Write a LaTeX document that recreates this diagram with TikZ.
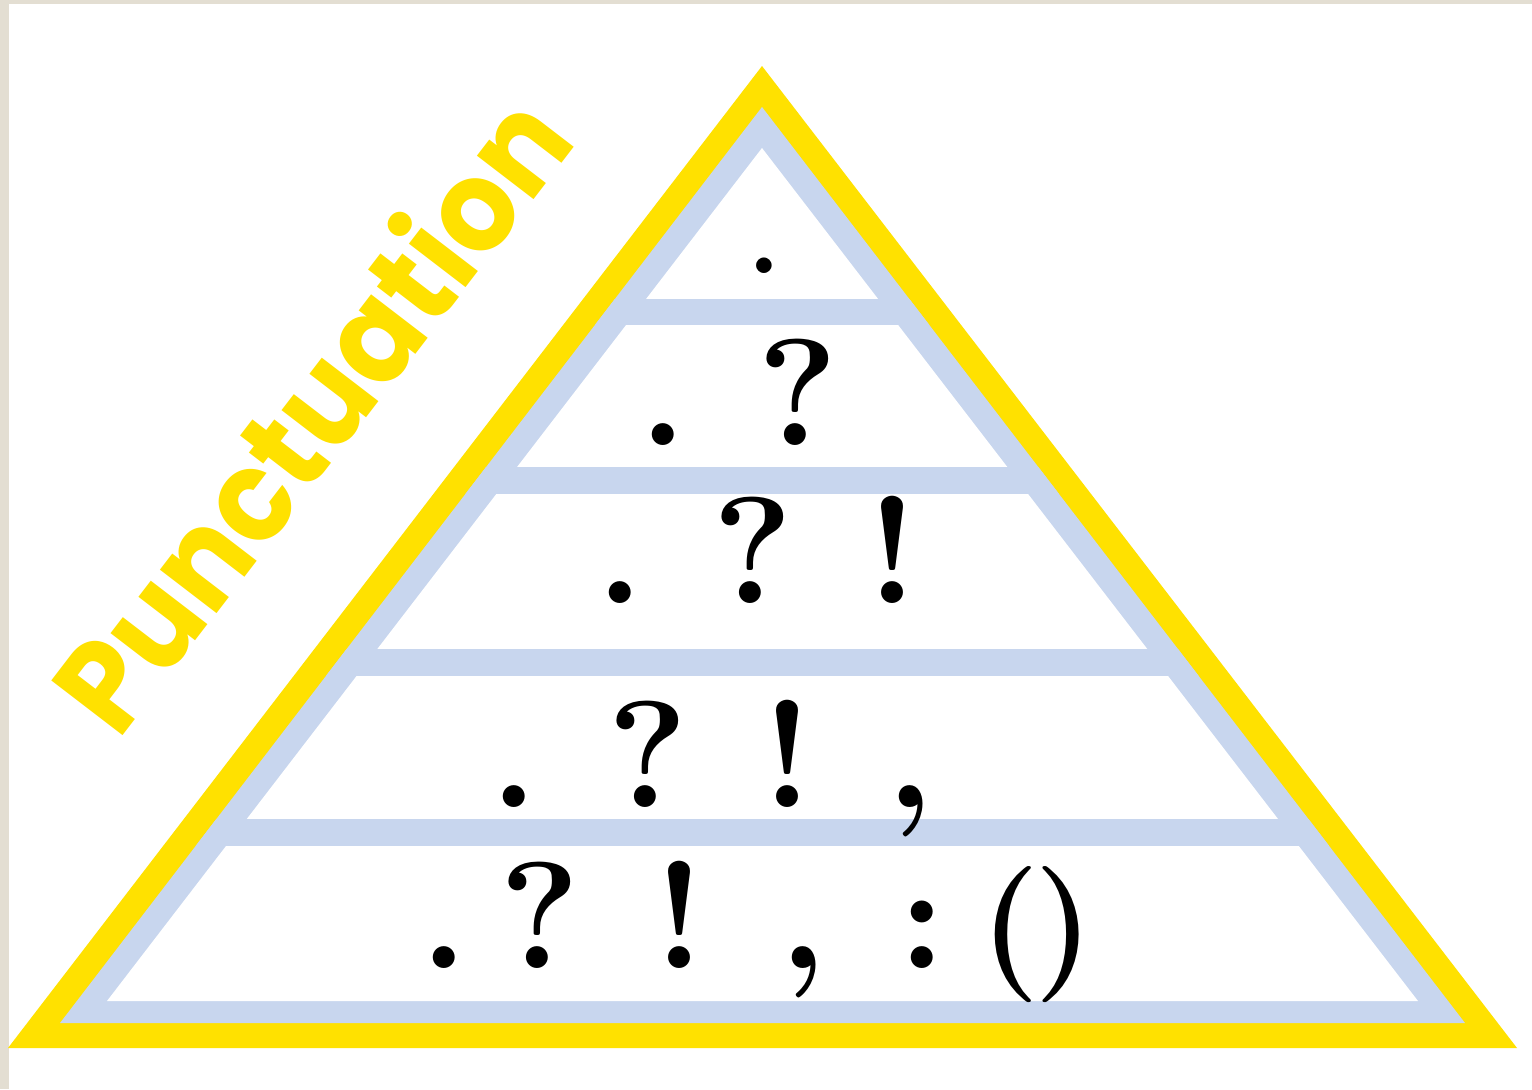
\documentclass[tikz,border=0pt]{standalone}
\usepackage{graphicx}
\usepackage{fontspec}
\newfontfamily\punctfont{Poppins}
\definecolor{pyellow}{RGB}{255,225,0}
\definecolor{pblue}{RGB}{200,214,238}
\definecolor{pbeige}{RGB}{227,222,210}
\begin{document}
\begin{tikzpicture}[x=0.5pt,y=-0.5pt,
  glyph/.style={inner sep=0pt,anchor=base,font=\fontsize{76}{76}\selectfont\bfseries},
  smallglyph/.style={glyph,font=\fontsize{54}{54}\selectfont\bfseries},
  parenglyph/.style={glyph,font=\fontsize{68}{68}\selectfont\bfseries},
  titletext/.style={inner sep=0pt,text=pyellow,font=\punctfont\bfseries\fontsize{64}{64}\selectfont}]
\useasboundingbox (0,0) rectangle (1532,1089);
\fill[white] (0,0) rectangle (1532,1089);
\fill[pbeige] (0,0) rectangle (9,1089);
\fill[pbeige] (0,0) rectangle (1532,4);
% triangles
\fill[pyellow] (8,1048) -- (762,66) -- (1517,1048) -- cycle;
\fill[pblue] (60,1023) -- (762,107) -- (1465,1023) -- cycle;
\fill[white] (107,1001) -- (762,148) -- (1418,1001) -- cycle;
\begin{scope}
  \clip (60,1023) -- (762,107) -- (1465,1023) -- cycle;
  \fill[pblue] (0,299) rectangle (1532,325);
  \fill[pblue] (0,467) rectangle (1532,494);
  \fill[pblue] (0,649) rectangle (1532,676);
  \fill[pblue] (0,819) rectangle (1532,846);
\end{scope}
% title
\node[titletext,rotate=52.5,anchor=base west] (title) at (118,742) {\scalebox{0.93}[1]{Punctuation}};
% row 1
\node[smallglyph] (r1a) at (764,273) {.};
% row 2
\node[glyph] (r2a) at (663,445) {.};
\node[glyph] (r2b) at (798,445) {?};
% row 3
\node[glyph] (r3a) at (620,603) {.};
\node[glyph] (r3b) at (753,603) {?};
\node[glyph] (r3c) at (893,603) {!};
% row 4
\node[glyph] (r4a) at (514,807) {.};
\node[glyph] (r4b) at (648,807) {?};
\node[glyph] (r4c) at (788,807) {!};
\node[glyph] (r4d) at (910,807) {,};
% row 5
\node[glyph] (r5a) at (444,968) {.};
\node[glyph] (r5b) at (540,968) {?};
\node[glyph] (r5c) at (680,968) {!};
\node[glyph] (r5d) at (803,968) {,};
\node[glyph] (r5e) at (922,968) {:};
\node[parenglyph] (r5f) at (1037,968) {(\kern-3pt)};
\end{tikzpicture}
\end{document}
